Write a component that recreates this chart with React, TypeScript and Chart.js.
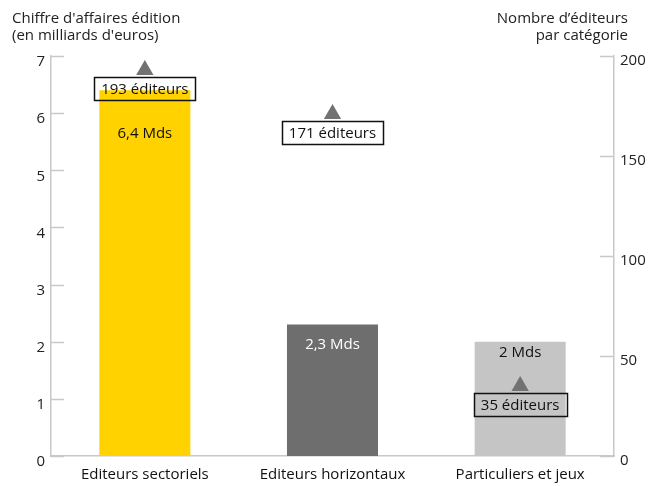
import React, { useEffect, useRef } from "react";
import { Chart, registerables } from "chart.js";

Chart.register(...registerables);

const categories = ["Editeurs sectoriels", "Editeurs horizontaux", "Particuliers et jeux"];
const revenue = [6.4, 2.3, 2.0];
const revenueLabels = ["6,4 Mds", "2,3 Mds", "2 Mds"];
const publishers = [193, 171, 35];
const publisherLabels = ["193 éditeurs", "171 éditeurs", "35 éditeurs"];
const leftTicks = [0, 1, 2, 3, 4, 5, 6, 7];
const rightTicks = [0, 50, 100, 150, 200];

const barColors = ["#FFD200", "#6E6E6E", "#C5C5C5"];
const valueLabelColors = ["#111111", "#FFFFFF", "#111111"];
const FONT = "'Open Sans'";
const FS = 15;
const AXIS = "#C8C8C8";

const overlay = {
  id: "overlay",
  beforeDatasetsDraw(chart: any) {
    const ctx = chart.ctx;
    const y = chart.scales.y;
    const y1 = chart.scales.y1;
    const area = chart.chartArea;
    ctx.save();
    ctx.strokeStyle = AXIS;
    ctx.lineWidth = 1.5;
    leftTicks.forEach((v) => {
      const py = Math.round(y.getPixelForValue(v)) + 0.5;
      ctx.beginPath();
      ctx.moveTo(area.left, py);
      ctx.lineTo(area.left + 13, py);
      ctx.stroke();
    });
    rightTicks.forEach((v) => {
      const py = Math.round(y1.getPixelForValue(v)) + 0.5;
      ctx.beginPath();
      ctx.moveTo(area.right - 14, py);
      ctx.lineTo(area.right, py);
      ctx.stroke();
    });
    ctx.restore();
  },
  afterDatasetsDraw(chart: any) {
    const ctx = chart.ctx;
    ctx.save();
    const barMeta = chart.getDatasetMeta(0);
    const offsets = [43, 20, 11];
    ctx.font = `${FS}px ${FONT}`;
    ctx.textAlign = "center";
    ctx.textBaseline = "middle";
    barMeta.data.forEach((bar: any, i: number) => {
      ctx.fillStyle = valueLabelColors[i];
      ctx.fillText(revenueLabels[i], bar.x, bar.y + offsets[i]);
    });
    const ptMeta = chart.getDatasetMeta(1);
    ptMeta.data.forEach((pt: any, i: number) => {
      const label = publisherLabels[i];
      const w = ctx.measureText(label).width + 14;
      const h = 23;
      const top = pt.y + 7;
      ctx.strokeStyle = "#111111";
      ctx.lineWidth = 1.5;
      ctx.strokeRect(Math.round(pt.x - w / 2) + 0.5, Math.round(top) + 0.5, Math.round(w), h);
      ctx.fillStyle = "#111111";
      ctx.fillText(label, pt.x, top + h / 2 + 1);
    });
    ctx.fillStyle = "#222222";
    ctx.textBaseline = "alphabetic";
    ctx.textAlign = "left";
    ctx.fillText("Chiffre d'affaires édition", 12, 23);
    ctx.fillText("(en milliards d'euros)", 12, 40);
    ctx.textAlign = "right";
    ctx.fillText("Nombre d\u2019éditeurs", 628, 23);
    ctx.fillText("par catégorie", 628, 40);
    ctx.restore();
  },
};

export default function App() {
  const ref = useRef<HTMLCanvasElement>(null);
  useEffect(() => {
    if (!ref.current) return;
    const chart = new Chart(ref.current, {
      type: "bar",
      data: {
        labels: categories,
        datasets: [
          {
            type: "bar",
            data: revenue,
            backgroundColor: barColors,
            yAxisID: "y",
            categoryPercentage: 1,
            barPercentage: 0.485,
            order: 2,
          },
          {
            type: "line",
            data: publishers,
            yAxisID: "y1",
            showLine: false,
            pointStyle: "triangle",
            pointRadius: 10,
            pointBackgroundColor: "#727272",
            pointBorderWidth: 0,
            order: 1,
          },
        ] as any,
      },
      options: {
        animation: false,
        responsive: false,
        devicePixelRatio: 1,
        layout: { padding: { top: 56, left: 0, right: 0, bottom: 0 } },
        plugins: { legend: { display: false }, tooltip: { enabled: false } },
        scales: {
          x: {
            type: "category",
            grid: { display: false, drawTicks: false },
            border: { display: true, color: AXIS, width: 1.5 },
            ticks: { color: "#111111", font: { family: FONT, size: FS, weight: "500" }, padding: 10, maxRotation: 0 },
            afterFit: (s: any) => { s.height = 30; },
          },
          y: {
            position: "left",
            min: 0,
            max: 7,
            grid: { display: false, drawTicks: false },
            border: { display: true, color: AXIS, width: 1.5 },
            ticks: { stepSize: 1, color: "#222222", font: { family: FONT, size: FS }, padding: 6, labelOffset: 6 } as any,
            afterFit: (s: any) => { s.width = 51; },
          },
          y1: {
            position: "right",
            min: 0,
            max: 200,
            grid: { display: false, drawTicks: false },
            border: { display: true, color: AXIS, width: 1.5 },
            ticks: { stepSize: 50, color: "#222222", font: { family: FONT, size: FS }, padding: 6, labelOffset: 5 } as any,
            afterFit: (s: any) => { s.width = 46; },
          },
        },
      } as any,
      plugins: [overlay],
    });
    return () => chart.destroy();
  }, []);
  return (
    <div style={{ position: "absolute", left: 0, top: 0, width: 660, height: 486, background: "#fff" }}>
      <canvas ref={ref} width={660} height={486} />
    </div>
  );
}
